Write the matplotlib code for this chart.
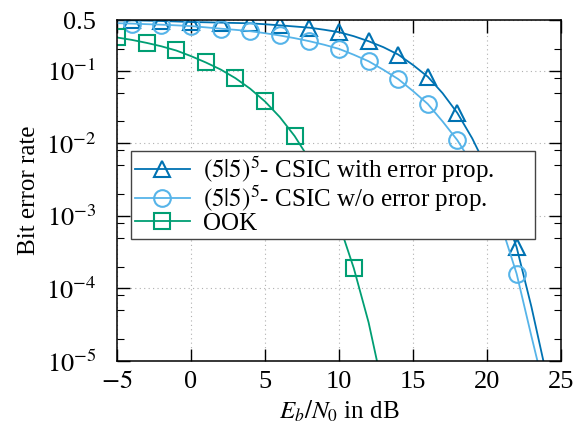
import matplotlib
matplotlib.use("Agg")
import matplotlib.pyplot as plt
from matplotlib.ticker import FixedLocator, NullFormatter
import numpy as np

plt.rcParams['font.family'] = ['Liberation Serif', 'DejaVu Serif']
plt.rcParams['mathtext.fontset'] = 'stix'

# Eb/N0 in dB (1 dB grid)
snr = [-5, -4, -3, -2, -1, 0, 1, 2, 3, 4, 5, 6, 7, 8, 9, 10, 11, 12,
       13, 14, 15, 16, 17, 18, 19, 20, 21, 22, 23, 24]
# (5|5)^5 CSIC with error propagation
ber_with = [0.497, 0.494, 0.490, 0.484, 0.477, 0.469, 0.465, 0.460, 0.455,
            0.450, 0.437, 0.422, 0.407, 0.392, 0.367, 0.340, 0.299, 0.255,
            0.211, 0.167, 0.120, 0.0826, 0.049, 0.0261, 0.0117, 4.5e-3,
            1.38e-3, 3.7e-4, 5.6e-5, 6.7e-6]
# (5|5)^5 CSIC without error propagation
ber_wo = [0.452, 0.446, 0.438, 0.431, 0.422, 0.412, 0.396, 0.380, 0.366,
          0.351, 0.329, 0.306, 0.281, 0.255, 0.228, 0.200, 0.166, 0.135,
          0.103, 0.0767, 0.0525, 0.0348, 0.0200, 0.0110, 5.2e-3, 2.2e-3,
          7.0e-4, 1.6e-4, 2.2e-5, 3.2e-6]
# OOK
snr_ook = [-5, -4, -3, -2, -1, 0, 1, 2, 3, 4, 5, 6, 7, 8, 9, 10, 11, 12, 13]
ber_ook = [0.287, 0.266, 0.242, 0.217, 0.190, 0.159, 0.130, 0.104, 0.079,
           0.0565, 0.0377, 0.023, 0.0126, 0.0060, 0.0024, 7.8e-4, 1.9e-4,
           3.4e-5, 3.9e-6]

labels = [r"$(5|5)^5$- CSIC with error prop.",
          r"$(5|5)^5$- CSIC w/o error prop.",
          "OOK"]
colors = ["#0072B2", "#56B4E9", "#009E73"]

xticks = [-5, 0, 5, 10, 15, 20, 25]
yticks = [1e-5, 1e-4, 1e-3, 1e-2, 1e-1, 0.5]
yticklabels = [r"$10^{-5}$", r"$10^{-4}$", r"$10^{-3}$", r"$10^{-2}$",
               r"$10^{-1}$", "0.5"]

fig = plt.figure(figsize=(5.75, 4.28), dpi=100)
ax = fig.add_axes([117/575, 1-361/428, 444/575, 341/428])

lw = 1.3
ax.plot(snr, ber_with, color=colors[0], lw=lw, marker='^', markersize=11,
        markerfacecolor='none', markeredgewidth=1.5, markevery=(1, 2),
        label=labels[0])
ax.plot(snr, ber_wo, color=colors[1], lw=lw, marker='o', markersize=12,
        markerfacecolor='none', markeredgewidth=1.5, markevery=(1, 2),
        label=labels[1])
ax.plot(snr_ook, ber_ook, color=colors[2], lw=lw, marker='s', markersize=11,
        markerfacecolor='none', markeredgewidth=1.5, markevery=(0, 2),
        label=labels[2])

ax.set_yscale('log')
ax.set_xlim(-5, 25)
ax.set_ylim(1e-5, 0.5)
ax.set_xticks(xticks)
ax.set_xticklabels(["$-5$", "0", "5", "10", "15", "20", "25"])
ax.set_yticks(yticks)
ax.set_yticklabels(yticklabels)
minors = [m * 10.0**e for e in range(-5, 0) for m in (2, 5, 8)]
minors = [v for v in minors if v < 0.5]
ax.yaxis.set_minor_locator(FixedLocator(minors))
ax.yaxis.set_minor_formatter(NullFormatter())

ax.tick_params(which='major', direction='in', length=9, width=1.0,
               top=True, right=True, labelsize=19, pad=7)
ax.tick_params(axis='y', which='major', pad=15)
ax.tick_params(which='minor', direction='in', length=5, width=0.8,
               right=True, left=True)
for s in ax.spines.values():
    s.set_linewidth(1.1)

ax.grid(True, which='major', linestyle=(0, (1, 3)), color='#b0b0b0', lw=0.8)

ax.set_xlabel(r"$E_b/N_0$ in dB", fontsize=18, labelpad=4)
ax.set_ylabel("Bit error rate", fontsize=18, labelpad=4)

leg = ax.legend(loc='upper left', bbox_to_anchor=(0.0315, 0.387, 0.91, 0.229),
                mode='expand', fontsize=18, frameon=True, fancybox=False,
                framealpha=1, edgecolor='#444444', labelspacing=-0.06,
                handlelength=2.2, borderpad=0.15, borderaxespad=0,
                handletextpad=0.55)
leg.get_frame().set_linewidth(1.0)

fig.savefig("out.png", dpi=100)
